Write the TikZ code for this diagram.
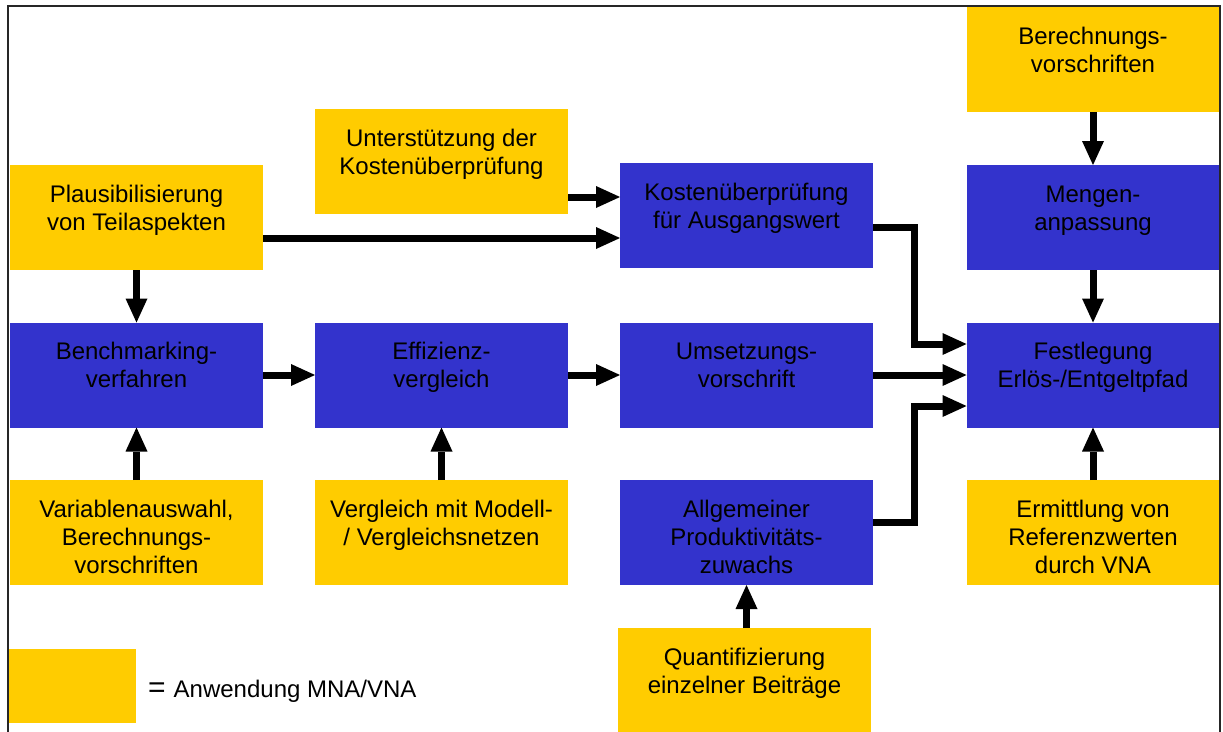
\documentclass[tikz,border=0pt]{standalone}
\usepackage{fontspec}
\setmainfont{Liberation Sans}
\usetikzlibrary{arrows.meta}
\definecolor{ygold}{HTML}{FFCC00}
\definecolor{vblue}{HTML}{3333CC}
\newcommand\boxtxt[1]{\parbox[c][105pt][t]{253pt}{\centering\fontsize{24}{28}\selectfont\rule{0pt}{37pt}#1\par}}
\tikzset{
  ybox/.style={fill=ygold, inner sep=0pt, outer sep=0pt},
  bbox/.style={fill=vblue, inner sep=0pt, outer sep=0pt},
  arr/.style={line width=7pt, line join=miter, -{Triangle[length=24pt,width=22pt,line width=0pt]}},
}
\begin{document}
\begin{tikzpicture}[x=1pt,y=-1pt]
\useasboundingbox (0,0) rectangle (1223,731);
\clip (0,0) rectangle (1223,731);
\fill[white] (0,0) rectangle (1223,731);

% nodes
\node[ybox] (berech) at (1093,59.5) {\boxtxt{Berechnungs-\\vorschriften}};
\node[ybox] (unter)  at (441.5,161.5) {\boxtxt{Unterstützung der\\Kostenüberprüfung}};
\node[ybox] (plaus)  at (136.5,217.5) {\boxtxt{Plausibilisierung\\von Teilaspekten}};
\node[bbox] (kosten) at (746.5,215.5) {\boxtxt{Kostenüberprüfung\\für Ausgangswert}};
\node[bbox] (mengen) at (1093,217.5) {\boxtxt{Mengen-\\anpassung}};
\node[bbox] (bench)  at (136.5,375) {\boxtxt{Benchmarking-\\verfahren}};
\node[bbox] (effiz)  at (441.5,375) {\boxtxt{Effizienz-\\vergleich}};
\node[bbox] (umsetz) at (746.5,375) {\boxtxt{Umsetzungs-\\vorschrift}};
\node[bbox] (fest)   at (1093,375) {\boxtxt{Festlegung\\Erlös-/Entgeltpfad}};
\node[ybox] (variab) at (136.5,532.5) {\boxtxt{Variablenauswahl,\\Berechnungs-\\vorschriften}};
\node[ybox] (vergl)  at (441.5,532.5) {\boxtxt{Vergleich mit Modell-\\/ Vergleichsnetzen}};
\node[bbox] (allg)   at (746.5,532.5) {\boxtxt{Allgemeiner\\Produktivitäts-\\zuwachs}};
\node[ybox] (ermit)  at (1093,532.5) {\boxtxt{Ermittlung von\\Referenzwerten\\durch VNA}};
\node[ybox] (quant)  at (744.5,680.5) {\boxtxt{Quantifizierung\\einzelner Beiträge}};

% legend
\node[ybox, minimum width=128pt, minimum height=74pt] (leg) at (72,686) {};
\node[anchor=base west, inner sep=0pt] (legtxt) at (148,697)
  {{\fontsize{30}{30}\selectfont =}\hspace{8pt}{\fontsize{24}{28}\selectfont Anwendung MNA/VNA}};

% helper coordinates
\coordinate (k1) at ([yshift=18.5pt]kosten.west);
\coordinate (k2) at ([yshift=-22.5pt]kosten.west);
\coordinate (k3) at ([yshift=-12pt]kosten.east);
\coordinate (f1) at ([yshift=31pt]fest.west);
\coordinate (f3) at ([yshift=-31pt]fest.west);
\coordinate (a1) at ([yshift=10.5pt]allg.east);
\coordinate (mx) at (914,0);

% connectors
\draw[arr] (unter.east |- k1) -- (k1);
\draw[arr] (plaus.east |- k2) -- (k2);
\draw[arr] (plaus.south) -- (bench.north);
\draw[arr] (bench.east) -- (effiz.west);
\draw[arr] (effiz.east) -- (umsetz.west);
\draw[arr] (umsetz.east) -- (fest.west);
\draw[arr] (k3) -| (mx |- f1) -- (f1);
\draw[arr] (a1) -| (mx |- f3) -- (f3);
\draw[arr] (variab.north) -- (bench.south);
\draw[arr] (vergl.north) -- (effiz.south);
\draw[arr] (allg.south |- quant.north) -- (allg.south);
\draw[arr] (ermit.north) -- (fest.south);
\draw[arr] (berech.south) -- (mengen.north);
\draw[arr] (mengen.south) -- (fest.north);

% frame (open at the bottom edge of the picture)
\draw[line width=2pt, black!85] (8,6) rectangle (1220,760);
\end{tikzpicture}
\end{document}
